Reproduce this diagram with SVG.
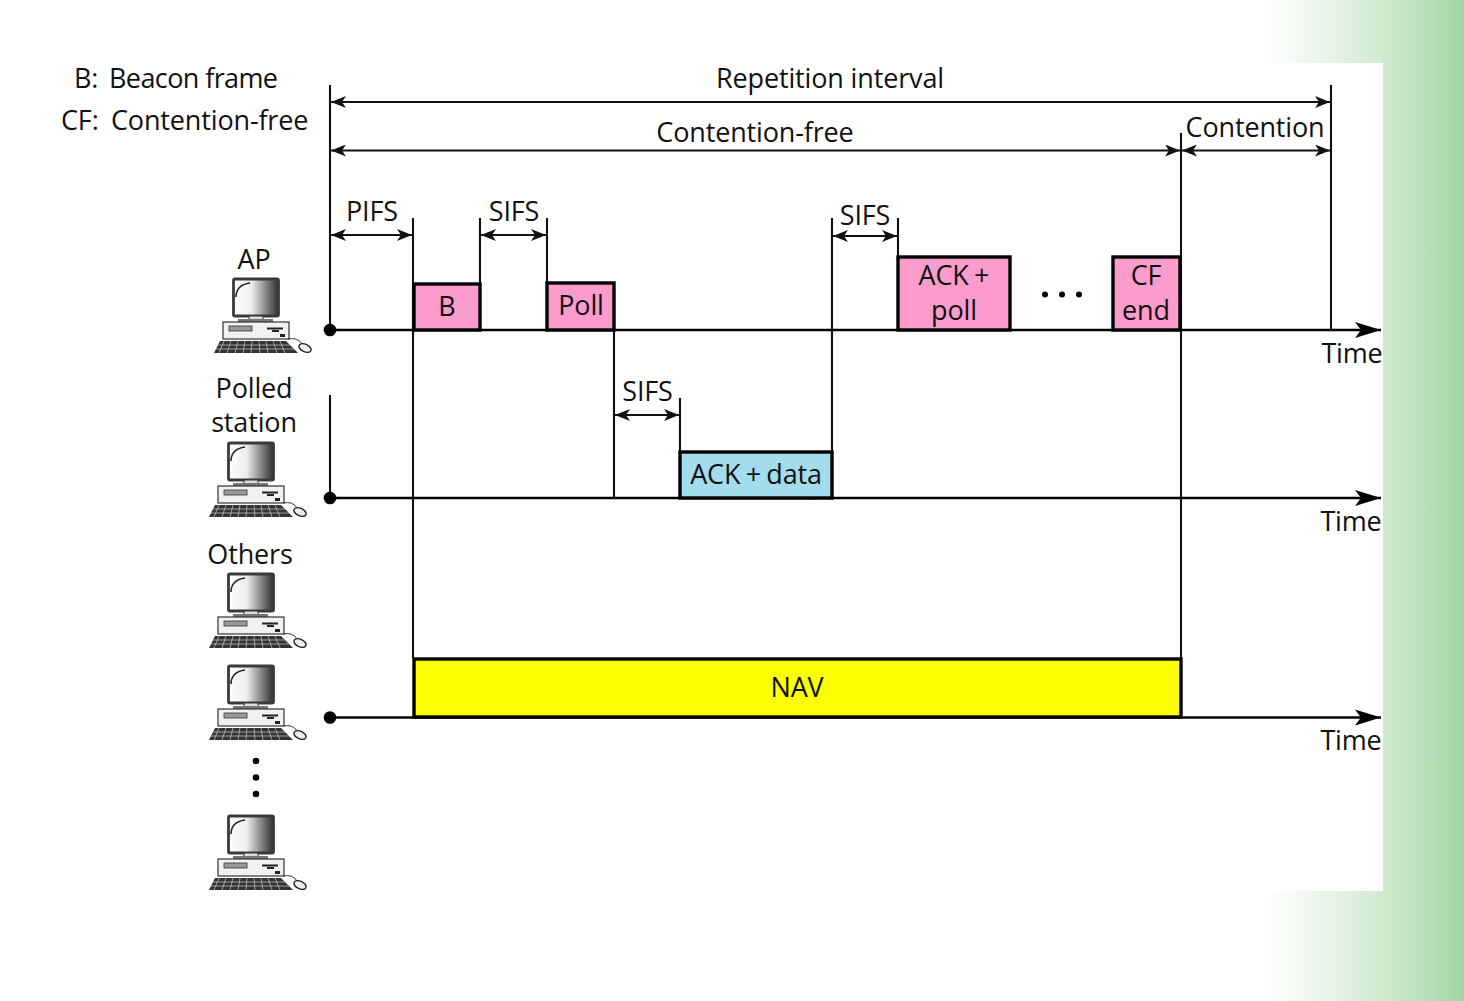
<svg xmlns="http://www.w3.org/2000/svg" width="1464" height="1001" viewBox="0 0 1464 1001">
<style>
text{font-family:"Open Sans","Noto Sans","Liberation Sans",sans-serif;font-size:27px;fill:#111;text-anchor:middle;letter-spacing:-.15px}
text.st{text-anchor:start}
.narrow{letter-spacing:-.6px}
.tight{word-spacing:-1.500px}
.thin{stroke:#111;stroke-width:2.100;fill:none}
.dim{stroke:#111;stroke-width:1.800;fill:none;marker-start:url(#ds);marker-end:url(#de)}
.time{stroke:#000;stroke-width:2.600;fill:none;marker-end:url(#ta)}
.box{stroke:#000;stroke-width:3.400}
.pink{fill:#fb9ccd}
</style>
<defs>
<marker id="de" markerUnits="userSpaceOnUse" markerWidth="16" markerHeight="12" refX="15" refY="6" orient="auto"><path d="M0 0L15 6L0 12L4 6Z" fill="#111"/></marker>
<marker id="ds" markerUnits="userSpaceOnUse" markerWidth="16" markerHeight="12" refX="1" refY="6" orient="auto"><path d="M16 0L1 6L16 12L12 6Z" fill="#111"/></marker>
<marker id="ta" markerUnits="userSpaceOnUse" markerWidth="26" markerHeight="18" refX="26" refY="9" orient="auto"><path d="M0 1L26 9L0 17L6 9Z" fill="#000"/></marker>
<linearGradient id="green" gradientUnits="userSpaceOnUse" x1="1265" x2="1464" y1="0" y2="0"><stop offset="0" stop-color="#fff"/><stop offset=".3" stop-color="#e9f5e9"/><stop offset=".6" stop-color="#cfe9cf"/><stop offset=".82" stop-color="#b8dfb8"/><stop offset="1" stop-color="#a0d7a0"/></linearGradient>
<linearGradient id="screen" x1="0" x2="1" y1="0" y2="0"><stop offset="0" stop-color="#fff"/><stop offset=".4" stop-color="#eee"/><stop offset="1" stop-color="#2e2e2e"/></linearGradient>
<symbol id="pc" overflow="visible">
<rect x="233.500" y="279" width="45" height="37" rx="1.500" fill="url(#screen)" stroke="#3a3a3a" stroke-width="2.800"/>
<path d="M236 297Q236 285 250 283" fill="none" stroke="#222" stroke-width="1.500"/>
<rect x="249" y="316" width="14" height="5" fill="#ddd" stroke="#333" stroke-width="1"/>
<rect x="238" y="319" width="35" height="3" fill="#777"/>
<rect x="223" y="322" width="66" height="17" fill="#f1f1f1" stroke="#333" stroke-width="1.200"/>
<rect x="229" y="326" width="23" height="5" fill="#999" stroke="#333" stroke-width=".8"/>
<path d="M267 328.500H283M272 331H279" stroke="#222" stroke-width="1.800"/>
<rect x="280" y="334" width="5" height="3" fill="#222"/>
<path d="M220 341H286L298 353H214Z" fill="#333"/>
<path d="M218 345H290M216 349H294M224 341L219 353M231 341L227 353M238 341L235 353M245 341L243 353M252 341L251 353M259 341L260 353M266 341L268 353M273 341L277 353M280 341L285 353" stroke="#ccc" stroke-width=".7"/>
<path d="M288 339Q298 337 302 344" fill="none" stroke="#333" stroke-width="1"/>
<ellipse cx="305" cy="348" rx="6.500" ry="3.800" transform="rotate(25 305 348)" fill="#eee" stroke="#222" stroke-width="1.400"/>
</symbol>
</defs>

<g id="background">
<rect width="1464" height="1001" fill="#fff"/>
<rect x="1265" y="0" width="199" height="1001" fill="url(#green)"/>
<rect x="110" y="63" width="1273" height="828" fill="#fff"/>
</g>

<g id="legend">
<text class="st" x="74" y="88">B:</text><text class="st narrow" x="109" y="88">Beacon frame</text>
<text class="st" x="61" y="130">CF:</text><text class="st" x="111" y="130">Contention-free</text>
</g>

<g id="connectors">
<path class="thin" d="M330 85V330M330 395V498M413 218V658M480 218V284M547 218V283M614 330V498M680 398V452M832 218V452M898 218V257M1181 133V658M1331 85V330"/>
<path class="dim" d="M331 102H1330"/>
<path class="dim" d="M331 150.500H1180"/>
<path class="dim" d="M1182 150.500H1330"/>
<path class="dim" d="M331 235H412"/>
<path class="dim" d="M481 235H546"/>
<path class="dim" d="M833 236H897"/>
<path class="dim" d="M615 415H679"/>
<path class="time" d="M330 330H1381"/>
<path class="time" d="M330 498H1381"/>
<path class="time" d="M330 717.500H1381"/>
<circle cx="330" cy="330" r="6.300" fill="#000"/>
<circle cx="330" cy="498" r="6.300" fill="#000"/>
<circle cx="330" cy="717.500" r="6.300" fill="#000"/>
</g>

<g id="node-b"><rect class="box pink" x="414" y="284" width="66" height="46"/><text x="447" y="316">B</text></g>
<g id="node-poll"><rect class="box pink" x="547" y="283" width="67" height="47"/><text x="581" y="315">Poll</text></g>
<g id="node-ack-poll"><rect class="box pink" x="898" y="257" width="112" height="73"/><text class="tight" x="954" y="285">ACK +</text><text x="954" y="320">poll</text></g>
<g id="node-cf-end"><rect class="box pink" x="1113" y="257" width="67" height="73"/><text x="1146" y="285">CF</text><text x="1146" y="320">end</text></g>
<g id="node-ack-data"><rect class="box" x="680" y="452" width="152" height="46" fill="#a3dcec"/><text class="tight" x="756" y="484">ACK + data</text></g>
<g id="node-nav"><rect class="box" x="414" y="659" width="767" height="58" fill="#ff0"/><text x="797" y="697">NAV</text></g>

<g id="dots-top"><circle cx="1045" cy="294.500" r="3" fill="#000"/><circle cx="1062" cy="294.500" r="3" fill="#000"/><circle cx="1079" cy="294.500" r="3" fill="#000"/></g>
<g id="dots-left"><circle cx="256" cy="761" r="3.300" fill="#000"/><circle cx="256" cy="777.500" r="3.300" fill="#000"/><circle cx="256" cy="794" r="3.300" fill="#000"/></g>

<g id="labels">
<text x="830" y="88">Repetition interval</text>
<text x="755" y="142">Contention-free</text>
<text x="1255" y="137">Contention</text>
<text x="372" y="221">PIFS</text>
<text x="514" y="221">SIFS</text>
<text x="865" y="225">SIFS</text>
<text x="647.500" y="401">SIFS</text>
<text x="1352" y="363">Time</text>
<text x="1351" y="531">Time</text>
<text x="1351" y="750">Time</text>
</g>

<g id="node-ap"><text x="254" y="269">AP</text><use href="#pc"/></g>
<g id="node-polled"><text x="254" y="398">Polled</text><text x="254" y="432">station</text><use href="#pc" x="-5" y="164"/></g>
<g id="node-others"><text x="250" y="564">Others</text><use href="#pc" x="-5" y="295"/></g>
<g id="node-other-2"><use href="#pc" x="-5" y="387"/></g>
<g id="node-other-3"><use href="#pc" x="-5" y="537"/></g>
</svg>
